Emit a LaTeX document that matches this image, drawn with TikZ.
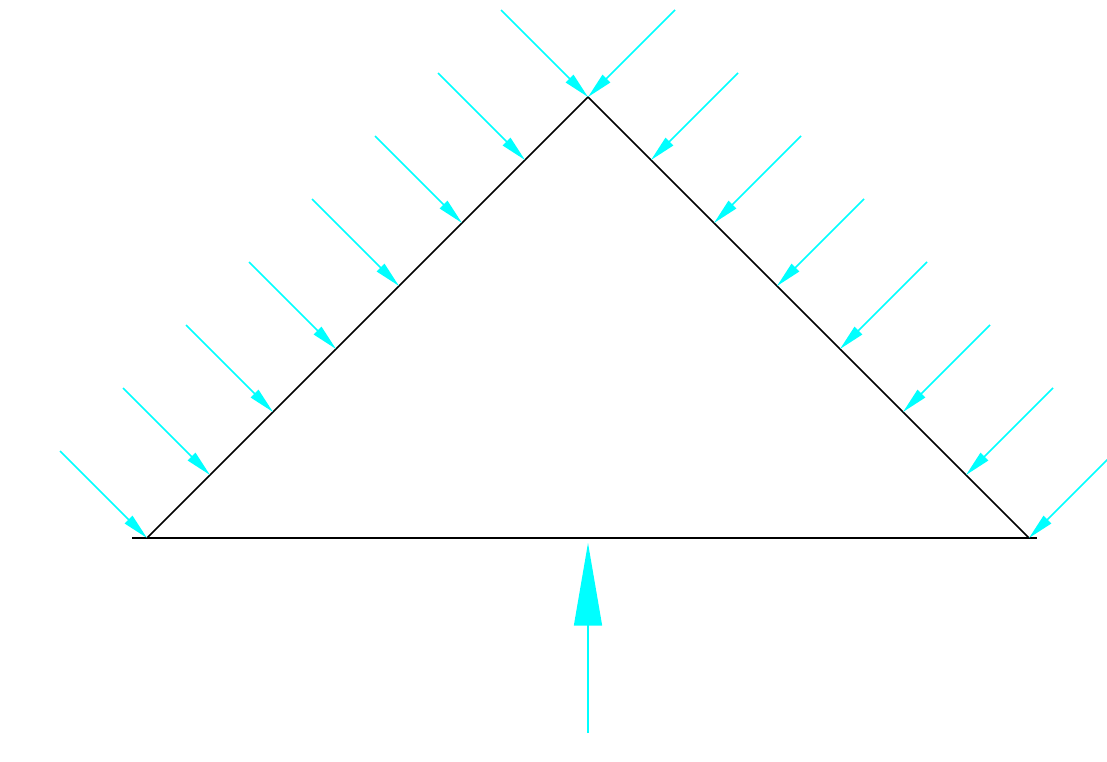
\documentclass[tikz,border=0pt]{standalone}
\usetikzlibrary{arrows.meta}
\definecolor{aqua}{RGB}{0,255,255}
\begin{document}
\begin{tikzpicture}[x=0.75pt,y=-0.75pt,
  side/.style={black,line width=1.1pt},
  load/.style={aqua,line width=1.1pt,-{Triangle[length=19.5pt,width=8pt]}},
  bigload/.style={aqua,line width=1.1pt,-{Triangle[length=62pt,width=21pt]}}]
\clip (0,0) rectangle (1107,761);
\useasboundingbox (0,0) rectangle (1107,761);
% corners
\coordinate (A) at (147,538);
\coordinate (B) at (588,97);
\coordinate (C) at (1029,538);
\coordinate (L) at (132,538);
\coordinate (R) at (1037,538);
\draw[side] (L) -- (R);
\draw[side] (A) -- (B) -- (C);
% loads on left side
\foreach \i in {0,...,7}{
  \pgfmathsetmacro{\px}{147+\i*63}
  \pgfmathsetmacro{\py}{538-\i*63}
  \coordinate (le\i) at (\px,\py);
  \coordinate (ls\i) at (\px-87,\py-87);
  \draw[load] (ls\i) -- (le\i);
}
% loads on right side
\foreach \i in {0,...,7}{
  \pgfmathsetmacro{\px}{588+\i*63}
  \pgfmathsetmacro{\py}{97+\i*63}
  \coordinate (re\i) at (\px,\py);
  \coordinate (rs\i) at (\px+87,\py-87);
  \draw[load] (rs\i) -- (re\i);
}
% bottom load
\coordinate (bs) at (588,733);
\coordinate (be) at (588,543);
\draw[bigload] (bs) -- (be);
\end{tikzpicture}
\end{document}
